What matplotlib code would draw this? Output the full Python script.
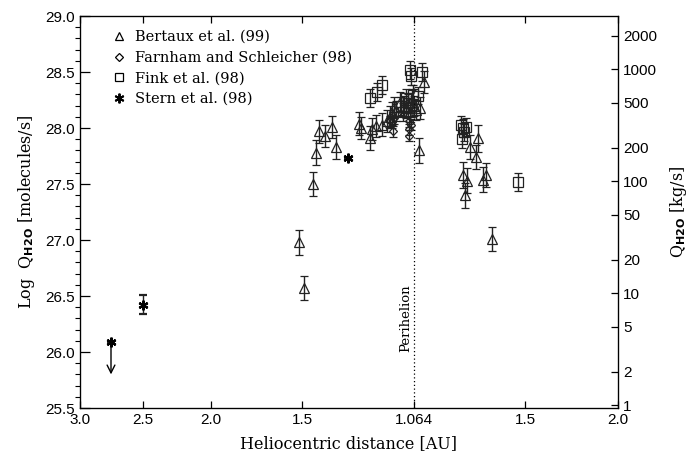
import matplotlib
matplotlib.use('Agg')
import matplotlib.pyplot as plt
from matplotlib.ticker import MultipleLocator, NullLocator
import numpy as np

plt.rcParams['font.family'] = ['DejaVu Serif']
plt.rcParams['mathtext.fontset'] = 'dejavusans'

# x is the position along the orbit, perihelion at 0 (plot units)
tick_pos = [-334, -271, -203, -112, 0, 111, 204]
tick_lab = ['3.0', '2.5', '2.0', '1.5', '1.064', '1.5', '2.0']

# Bertaux et al. (99)
bert_x = [-115, -110, -101, -98, -95, -89, -82, -78, -55, -53, -44, -42, -38,
          -32, -27, -24, -22, -20, -18, -14, -10, -8, -6, -4, -2, 0, 2, 5, 6,
          10, 49, 51, 53, 56, 62, 64, 69, 72, 78]
bert_y = [26.98, 26.57, 27.50, 27.78, 27.97, 27.93, 28.01, 27.83, 28.04, 28.00,
          27.91, 27.99, 28.02, 28.03, 28.06, 28.10, 28.13, 28.19, 28.15, 28.23,
          28.20, 28.18, 28.22, 28.14, 28.25, 28.20, 28.16, 27.80, 28.18, 28.41,
          27.58, 27.40, 27.53, 27.83, 27.74, 27.91, 27.54, 27.58, 27.01]
bert_err = [0.11, 0.11, 0.11, 0.11, 0.10, 0.10, 0.10, 0.11, 0.10, 0.10, 0.11,
            0.10, 0.10, 0.10, 0.10, 0.10, 0.10, 0.09, 0.09, 0.09, 0.09, 0.09,
            0.09, 0.09, 0.09, 0.09, 0.09, 0.11, 0.10, 0.10, 0.12, 0.11, 0.11,
            0.11, 0.11, 0.12, 0.11, 0.11, 0.11]

# Farnham and Schleicher (98)
farn_x = [-24, -22, -21, -20, -5, -5, -5, -3]
farn_y = [28.06, 28.05, 27.97, 28.09, 28.06, 27.99, 27.93, 28.03]
farn_err = [0.05, 0.05, 0.05, 0.05, 0.05, 0.05, 0.05, 0.05]

# Fink et al. (98)
fink_x = [-44, -37, -32, -13, -11, -8, -6, -4, -3, -1, 4, 8, 47, 48, 49, 50,
          52, 104]
fink_y = [28.27, 28.32, 28.38, 28.20, 28.14, 28.27, 28.22, 28.52, 28.46,
          28.30, 28.29, 28.50, 28.03, 27.90, 28.00, 27.96, 28.01, 27.52]
fink_err = [0.08] * 18

# Stern et al. (98)
stern_x = [-303, -271, -66]
stern_y = [26.09, 26.42, 27.73]
stern_err = [0.0, 0.085, 0.0]
stern_limit = [True, False, False]

# right axis: kg/s of water
kgs_ticks = [1, 2, 5, 10, 20, 50, 100, 200, 500, 1000, 2000]
m_h2o = 2.99e-26

fig = plt.figure(figsize=(7, 4.55), dpi=100)
ax = fig.add_axes([80 / 700, 1 - 408 / 455, 538 / 700, 392 / 455])

ebkw = dict(ls='none', color='k', ecolor='#222222', elinewidth=1.0,
            capsize=3, capthick=1.0, mfc='none', mec='#222222', mew=0.9)
ax.errorbar(bert_x, bert_y, yerr=bert_err, marker='^', ms=7, **ebkw)
ax.errorbar(farn_x, farn_y, yerr=farn_err, marker='D', ms=4.5, **ebkw)
ax.errorbar(fink_x, fink_y, yerr=fink_err, marker='s', ms=7, **ebkw)
ax.errorbar(stern_x, stern_y, yerr=stern_err, marker=(6, 2, 0), ms=7,
            ls='none', color='k', ecolor='#222222', elinewidth=1.0,
            capsize=3, capthick=1.0, mew=1.6)
for x, y, lim in zip(stern_x, stern_y, stern_limit):
    if lim:
        ax.annotate('', xy=(x, y - 0.29), xytext=(x, y),
                    arrowprops=dict(arrowstyle='->', color='k', lw=1.0,
                                    mutation_scale=14, shrinkA=0, shrinkB=0))

ax.axvline(0, ls=(0, (1, 2)), color='k', lw=0.9)
ax.text(-8, 26.3, 'Perihelion', rotation=90, ha='center', va='center',
        fontsize=9.5)

ax.set_xlim(-334, 204)
ax.set_ylim(25.5, 29.0)
ax.set_xticks(tick_pos)
ax.set_xticklabels(tick_lab)
ax.yaxis.set_major_locator(MultipleLocator(0.5))
ax.yaxis.set_minor_locator(MultipleLocator(0.1))
ax.tick_params(axis='both', direction='in', labelsize=11, width=0.9)
ax.tick_params(axis='y', which='major', length=7)
ax.tick_params(axis='y', which='minor', length=3.5, width=0.8)
ax.tick_params(axis='x', length=5, top=True)
for lab in ax.get_xticklabels() + ax.get_yticklabels():
    lab.set_family('Liberation Sans')
for sp in ax.spines.values():
    sp.set_linewidth(0.9)

ax.set_xlabel('Heliocentric distance [AU]', fontsize=11.5, labelpad=6)
ax.set_ylabel(r'Log  Q$_{\mathbf{H2O}}$ [molecules/s]', fontsize=11.5,
              labelpad=6)

ax2 = ax.twinx()
ax2.set_ylim(ax.get_ylim())
ax2.set_yticks([np.log10(q / m_h2o) for q in kgs_ticks])
ax2.set_yticklabels([str(q) for q in kgs_ticks])
ax2.yaxis.set_minor_locator(NullLocator())
ax2.tick_params(axis='y', direction='in', length=5, labelsize=11, width=0.9)
for lab in ax2.get_yticklabels():
    lab.set_family('Liberation Sans')
ax2.set_ylabel(r'Q$_{\mathbf{H2O}}$ [kg/s]', fontsize=11.5, labelpad=8)

# legend with markers only
h1 = ax.plot([], [], ls='none', marker='^', ms=6, mfc='none', mec='k', mew=0.9)[0]
h2 = ax.plot([], [], ls='none', marker='D', ms=4.5, mfc='none', mec='k', mew=0.9)[0]
h3 = ax.plot([], [], ls='none', marker='s', ms=6, mfc='none', mec='k', mew=0.9)[0]
h4 = ax.plot([], [], ls='none', marker=(6, 2, 0), ms=7, color='k', mew=1.4)[0]
ax.legend([h1, h2, h3, h4], ['Bertaux et al. (99)',
                             'Farnham and Schleicher (98)',
                             'Fink et al. (98)', 'Stern et al. (98)'],
          loc='upper left', bbox_to_anchor=(0.04, 0.99), frameon=False,
          fontsize=10.5, handlelength=1.0, handletextpad=0.6,
          labelspacing=0.45, borderaxespad=0.3)

fig.savefig('out.png', dpi=100)
